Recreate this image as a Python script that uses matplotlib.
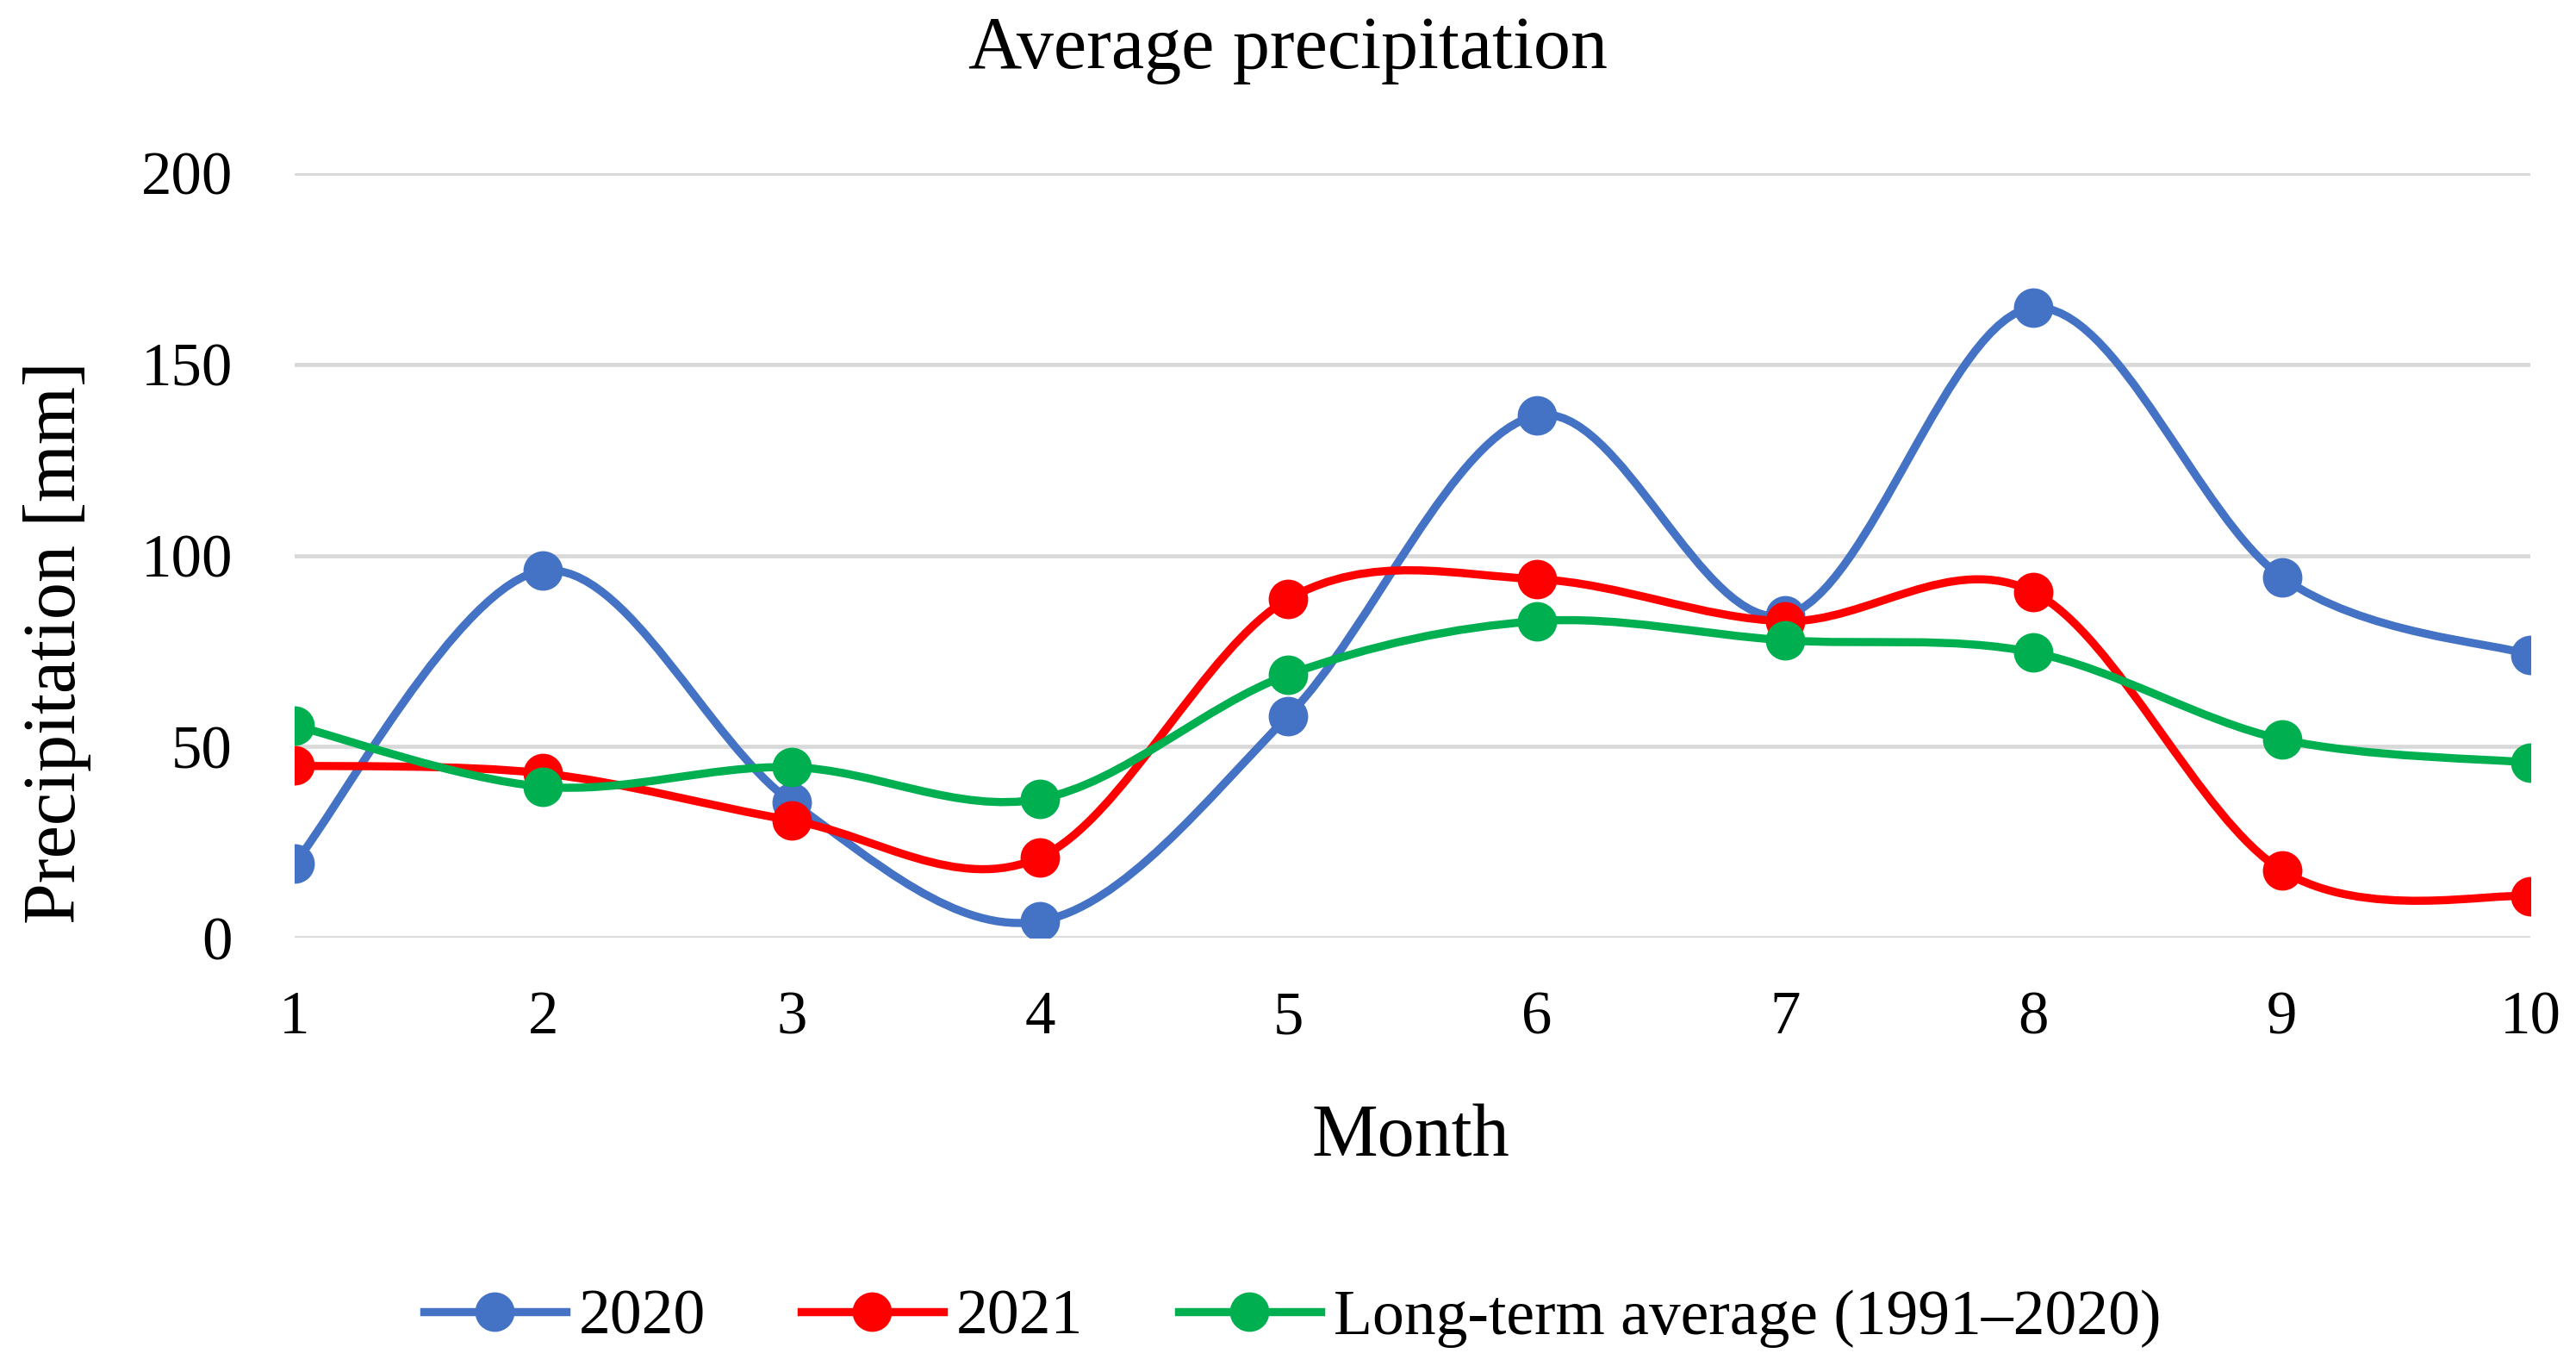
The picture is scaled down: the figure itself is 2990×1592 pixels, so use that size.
import matplotlib
matplotlib.use("Agg")
import matplotlib.pyplot as plt
from matplotlib.path import Path
from matplotlib.patches import PathPatch
from matplotlib.lines import Line2D
import numpy as np

months = [1, 2, 3, 4, 5, 6, 7, 8, 9, 10]
p2020 = [19.5, 96, 35.5, 4.3, 58, 136.6, 84.3, 164.8, 94.3, 74]
p2021 = [45, 43, 30.7, 21, 88.6, 93.8, 82.8, 90.4, 17.6, 10.8]
plta = [55.5, 39.5, 44.6, 36.3, 68.8, 82.8, 77.8, 74.6, 51.9, 45.8]

series_names = ["2020", "2021", "Long-term average (1991\u20132020)"]
series_colors = ["#4472C4", "#FF0000", "#00B050"]
yticks = [0, 50, 100, 150, 200]

FONT = "Liberation Serif"
plt.rcParams["font.family"] = [FONT, "DejaVu Serif"]

W, H, DPI = 2990, 1592, 200
fig = plt.figure(figsize=(W / DPI, H / DPI), dpi=DPI)
ax = fig.add_axes([342 / W, 1 - 1088 / H, (2937 - 342) / W, (1088 - 201) / H])

def smooth_path(xs, ys):
    pts = np.column_stack([xs, ys]).astype(float)
    n = len(pts)
    verts = [pts[0]]
    codes = [Path.MOVETO]
    for i in range(n - 1):
        p0 = pts[i - 1] if i > 0 else pts[i]
        p1 = pts[i]
        p2 = pts[i + 1]
        p3 = pts[i + 2] if i + 2 < n else pts[i + 1]
        c1 = p1 + (p2 - p0) / 6.0
        c2 = p2 - (p3 - p1) / 6.0
        verts += [c1, c2, p2]
        codes += [Path.CURVE4] * 3
    return Path(verts, codes)

LW = 3.4
MS = 15.5
for k, (vals, col) in enumerate(zip([p2020, p2021, plta], series_colors)):
    patch = PathPatch(smooth_path(months, vals), facecolor="none", edgecolor=col,
                      lw=LW, zorder=3 + 2 * k, capstyle="round", joinstyle="round")
    ax.add_patch(patch)
    ax.plot(months, vals, linestyle="none", marker="o", ms=MS, color=col,
            zorder=4 + 2 * k)

ax.set_xlim(1, 10)
ax.set_ylim(0, 200)
ax.set_yticks(yticks)
ax.set_xticks(months)
ax.grid(axis="y", color="#D9D9D9", lw=1.7, zorder=1)
ax.set_axisbelow(True)
for s in ax.spines.values():
    s.set_visible(False)
ax.tick_params(axis="both", length=0, labelsize=25.5, colors="black")
ax.tick_params(axis="y", pad=26)
ax.tick_params(axis="x", pad=22)

fig.text(1495 / W, 1 - 58 / H, "Average precipitation", ha="center", va="center",
         fontsize=31)
fig.text(1637 / W, 1 - 1320 / H, "Month", ha="center", va="center", fontsize=31)
fig.text(66 / W, 1 - 746 / H, "Precipitation [mm]", ha="center", va="center",
         rotation=90, fontsize=31)

handles = [Line2D([0], [0], color=c, lw=LW, marker="o", ms=MS) for c in series_colors]
fig.legend(handles, series_names, loc="center", bbox_to_anchor=(1500 / W, 1 - 1530 / H),
           ncol=3, frameon=False, fontsize=26.5, handlelength=2.25, handletextpad=0.2,
           columnspacing=1.5)

fig.savefig("out.png", dpi=DPI)
